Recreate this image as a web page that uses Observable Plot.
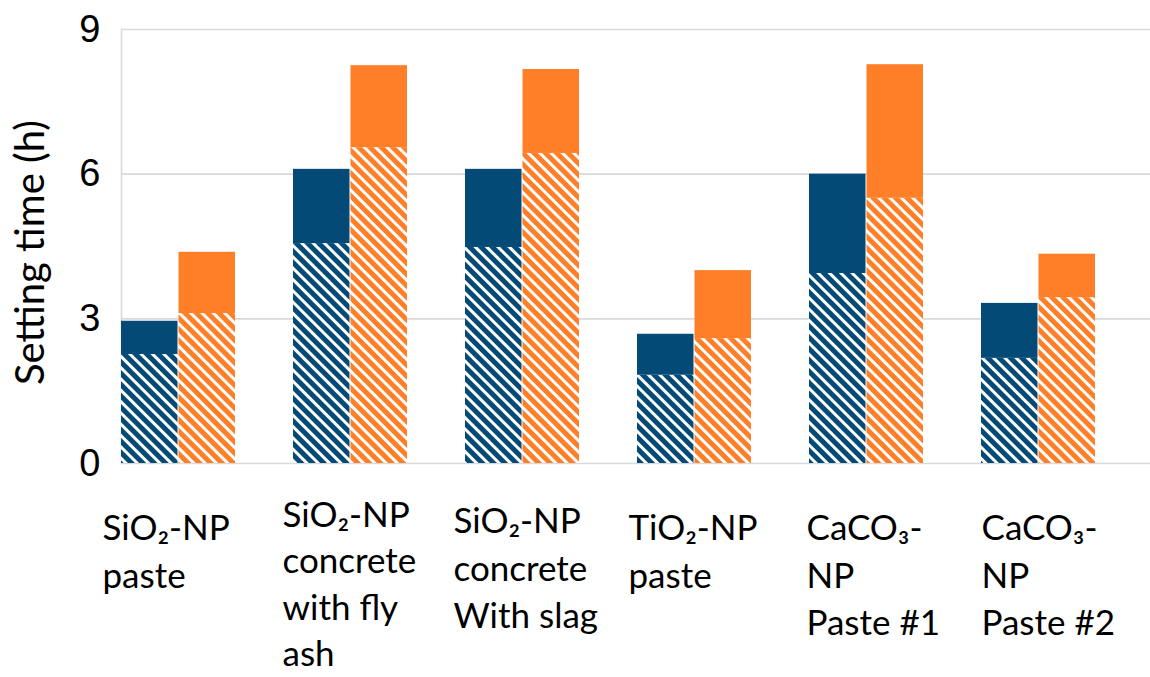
<!DOCTYPE html>
<html>
<head>
<meta charset="utf-8">
<script src="https://cdn.jsdelivr.net/npm/d3@7"></script>
<script src="https://cdn.jsdelivr.net/npm/@observablehq/plot@0.6"></script>
<style>
  html, body { margin: 0; padding: 0; background: #ffffff; }
  #chart { width: 1150px; height: 677px; }
</style>
</head>
<body>
<div id="chart"></div>
<script>
// ---- data ----
const groups = [
  "SiO2-NP paste",
  "SiO2-NP concrete with fly ash",
  "SiO2-NP concrete With slag",
  "TiO2-NP paste",
  "CaCO3-NP Paste #1",
  "CaCO3-NP Paste #2"
];
const tickLabels = [
  "SiO₂-NP\npaste",
  "SiO₂-NP\nconcrete\nwith fly\nash",
  "SiO₂-NP\nconcrete\nWith slag",
  "TiO₂-NP\npaste",
  "CaCO₃-\nNP\nPaste #1",
  "CaCO₃-\nNP\nPaste #2"
];
// blue series: initial (hatched) and final (solid top) setting time, h
const blueInitial = [2.26, 4.56, 4.48, 1.83, 3.94, 2.18];
const blueFinal   = [2.95, 6.10, 6.10, 2.68, 6.00, 3.32];
// orange series
const orangeInitial = [3.11, 6.55, 6.43, 2.59, 5.50, 3.44];
const orangeFinal   = [4.38, 8.25, 8.17, 4.00, 8.27, 4.34];
const yTicks = [0, 3, 6, 9];
const yTitle = "Setting time (h)";

// ---- styles ----
const BLUE = "#044a77";
const ORANGE = "#fe7f27";
const GRID = "#d9d9d9";
const labelDx = [-76, -68, -69, -66, -60, -57];
const labelDy = [43, 30, 36, 43, 43, 43];
const labelLH = [1.36, 1.33, 1.36, 1.36, 1.36, 1.36];

const rows = groups.map((g, i) => ({
  group: g,
  blueInitial: blueInitial[i], blueFinal: blueFinal[i],
  orangeInitial: orangeInitial[i], orangeFinal: orangeFinal[i]
}));

const half = 57.5;

const labelMarks = groups.map((g, i) =>
  Plot.text([g], {
    x: d => d,
    text: () => tickLabels[i],
    frameAnchor: "bottom",
    textAnchor: "start",
    lineAnchor: "top",
    lineHeight: labelLH[i],
    dx: labelDx[i],
    dy: labelDy[i],
    fontSize: 35,
    fontFamily: "Lato, 'Noto Sans', sans-serif",
    fill: "#000"
  })
);

const svg = Plot.plot({
  width: 1150,
  height: 677,
  marginTop: 29,
  marginBottom: 214,
  marginLeft: 121,
  marginRight: 0,
  x: { type: "band", domain: groups, range: [121, 1101], paddingInner: 0.335, paddingOuter: 0, align: 0, axis: null },
  y: { domain: [0, 9], axis: null },
  marks: [
    Plot.ruleY(yTicks, { stroke: GRID, strokeWidth: 1.6 }),
    Plot.frame({ anchor: "left", stroke: GRID, strokeWidth: 1.6 }),
    // blue
    Plot.barY(rows, { x: "group", y1: 0, y2: "blueInitial", fill: "url(#hatchBlue)", insetRight: half }),
    Plot.barY(rows, { x: "group", y1: "blueInitial", y2: "blueFinal", fill: BLUE, insetRight: half }),
    // orange
    Plot.barY(rows, { x: "group", y1: 0, y2: "orangeInitial", fill: "url(#hatchOrange)", insetLeft: half }),
    Plot.barY(rows, { x: "group", y1: "orangeInitial", y2: "orangeFinal", fill: ORANGE, insetLeft: half }),
    Plot.axisY(yTicks, { tickSize: 0, tickPadding: 21, fontSize: 38, fontFamily: "'Liberation Sans', Arial, sans-serif", label: null, fill: "#000" }),
    Plot.text([yTitle], { frameAnchor: "left", textAnchor: "middle", lineAnchor: "middle", rotate: -90, dx: -90, dy: 6, fontSize: 40, fontFamily: "Lato, 'Noto Sans', sans-serif", fill: "#000" }),
    ...labelMarks
  ]
});

// hatch patterns
const defs = d3.select(svg).insert("defs", ":first-child");
[["hatchBlue", BLUE], ["hatchOrange", ORANGE]].forEach(([id, col]) => {
  const p = defs.append("pattern")
    .attr("id", id)
    .attr("patternUnits", "userSpaceOnUse")
    .attr("width", 8).attr("height", 8)
    .attr("patternTransform", "rotate(-45)");
  p.append("rect").attr("width", 8).attr("height", 8).attr("fill", col);
  p.append("rect").attr("width", 3).attr("height", 8).attr("fill", "#ffffff");
});

document.getElementById("chart").appendChild(svg);
</script>
</body>
</html>
